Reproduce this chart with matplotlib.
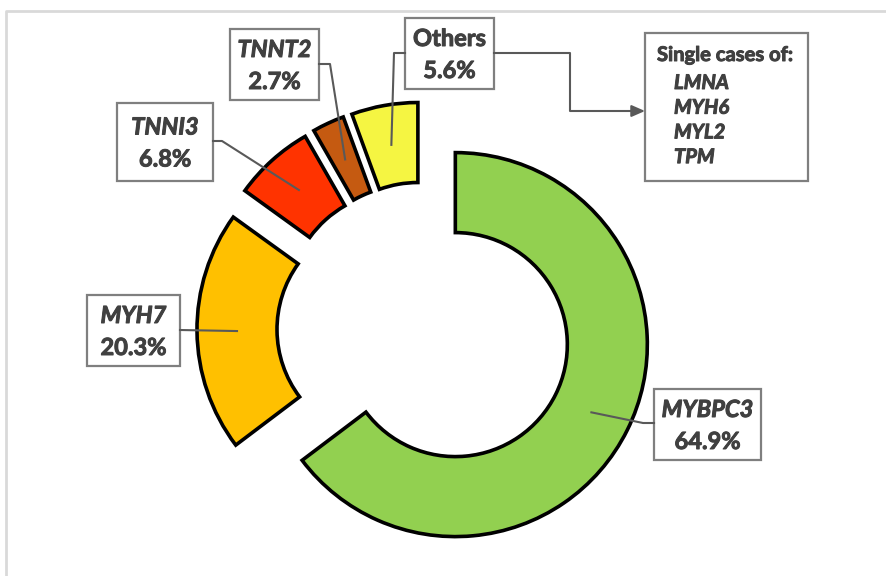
import numpy as np
import matplotlib.pyplot as plt
import matplotlib.patheffects as pe
from matplotlib.patches import Rectangle

# --- data ---
genes = ["MYBPC3", "MYH7", "TNNI3", "TNNT2", "Others"]
shares = [64.9, 20.3, 6.8, 2.7, 5.6]
colors = ["#92D050", "#FFC000", "#FF3300", "#C55A11", "#F5F542"]
single_cases = ["LMNA", "MYH6", "MYL2", "TPM"]

W, H = 886, 576
TXT = "#404040"
LINE = "#595959"
BOXEDGE = "#7F7F7F"
plt.rcParams['font.family'] = ['Lato', 'DejaVu Sans']
heavy = [pe.withStroke(linewidth=0.7, foreground=TXT)]


def Y(y):
    # pixel row (top-down) -> data y
    return H - y


fig = plt.figure(figsize=(W / 100, H / 100), dpi=100)
ax = fig.add_axes([0, 0, 1, 1])

wedges, _ = ax.pie(shares, colors=colors, radius=192, center=(424, Y(329)),
                   startangle=90, counterclock=False, explode=[35] * len(shares),
                   wedgeprops=dict(width=80, edgecolor="black", linewidth=2.6))
ax.set_xlim(0, W)
ax.set_ylim(0, H)
ax.set_aspect('auto')
ax.axis('off')

# chart area border (top / left)
ax.plot([6, 6, W], [0, Y(11), Y(11)], color="#D9D9D9", lw=2, solid_capstyle='butt')

# label boxes: left, top, right, bottom (pixels) and elbow of leader line
boxes = {
    "MYBPC3": ((654, 389, 761, 460), [(654, 423), (643, 423)]),
    "MYH7": ((87, 295, 180, 366), [(180, 330)]),
    "TNNI3": ((117, 103, 213, 181), [(213, 141), (222, 141)]),
    "TNNT2": ((230, 29, 319, 100), [(319, 64), (330, 64)]),
    "Others": ((405, 18, 494, 89), [(405, 53), (394, 53)]),
}

for w, g, s in zip(wedges, genes, shares):
    (x0, y0, x1, y1), elbow = boxes[g]
    ax.add_patch(Rectangle((x0, Y(y1)), x1 - x0, y1 - y0, fill=True, facecolor="white",
                           edgecolor=BOXEDGE, lw=1.6, zorder=3))
    cx = (x0 + x1) / 2
    cy = (y0 + y1) / 2
    ax.text(cx, Y(cy - 15), g, ha="center", va="center", fontsize=17, fontweight="bold",
            style="normal" if g == "Others" else "italic", color=TXT, zorder=4,
            path_effects=heavy)
    ax.text(cx, Y(cy + 17), f"{s}%", ha="center", va="center", fontsize=17,
            fontweight="bold", color=TXT, zorder=4, path_effects=heavy)
    # leader line to middle of the ring at the wedge mid-angle
    tm = np.deg2rad((w.theta1 + w.theta2) / 2)
    rm = w.r - w.width / 2
    ex = w.center[0] + rm * np.cos(tm)
    ey = w.center[1] + rm * np.sin(tm)
    xs = [p[0] for p in elbow] + [ex]
    ys = [Y(p[1]) for p in elbow] + [ey]
    ax.plot(xs, ys, color=LINE, lw=1.5, zorder=5)

# "Single cases of" box with arrow from the Others box
ax.add_patch(Rectangle((645, Y(181)), 808 - 645, 181 - 33, facecolor="white",
                       edgecolor=BOXEDGE, lw=1.6, zorder=3))
ax.text(657, Y(55), "Single cases of:", ha="left", va="center", fontsize=14.5,
        fontweight="bold", color=TXT, zorder=4, path_effects=heavy)
for i, g in enumerate(single_cases):
    ax.text(674, Y(83 + i * 24.7), g, ha="left", va="center", fontsize=14.5,
            fontweight="bold", style="italic", color=TXT, zorder=4, path_effects=heavy)
ax.plot([494, 570, 570, 636], [Y(53), Y(53), Y(111), Y(111)], color=LINE, lw=1.5, zorder=5)
ax.annotate("", xy=(645, Y(111)), xytext=(632, Y(111)),
            arrowprops=dict(arrowstyle="-|>,head_length=0.8,head_width=0.35",
                            color=LINE, lw=1.5, shrinkA=0, shrinkB=0))

fig.savefig("out.png", dpi=100, facecolor="white")
